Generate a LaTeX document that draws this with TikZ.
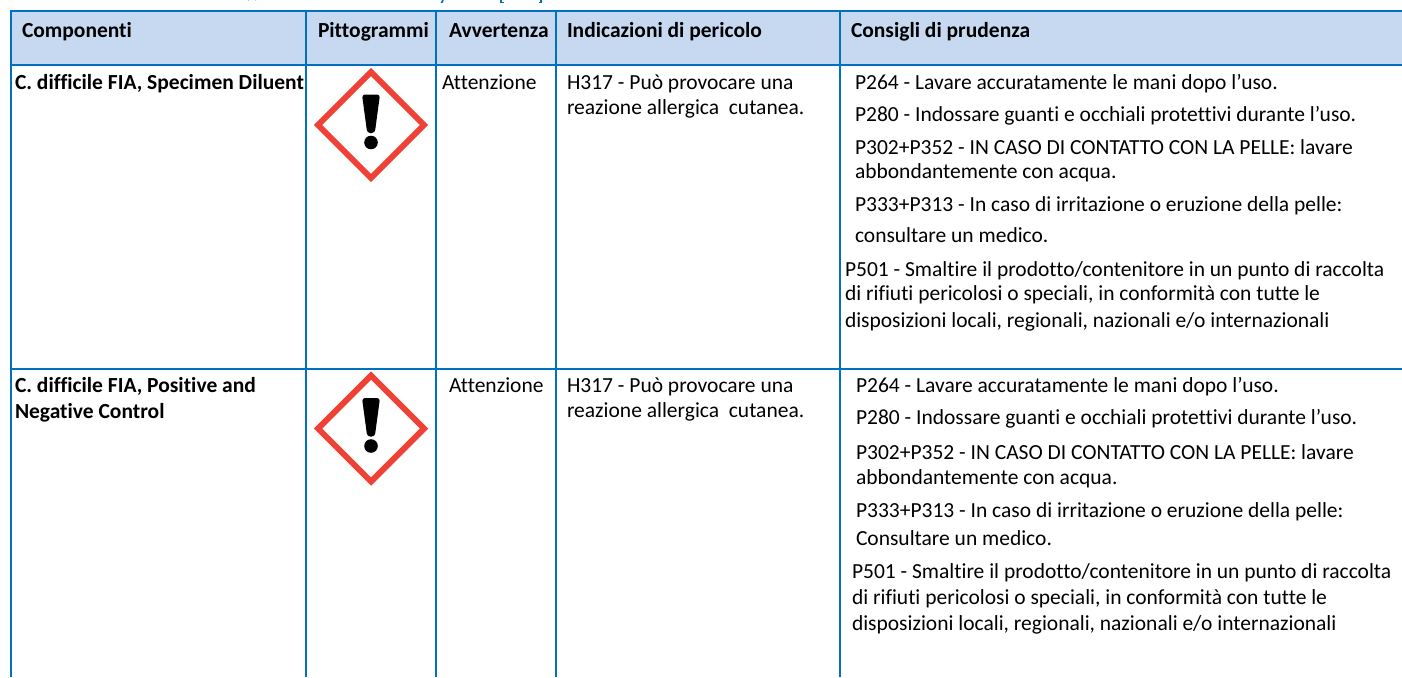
\documentclass[tikz,border=0pt]{standalone}
\usepackage{fontspec}
\setmainfont[Ligatures=CommonOff]{Carlito}
\definecolor{rule}{HTML}{0070C0}
\definecolor{head}{HTML}{C6D9F1}
\definecolor{ghs}{HTML}{EF4136}
\tikzset{
  x=1pt,y=-1pt,
  rulestyle/.style={draw=rule,line width=2pt},
  tx/.style={anchor=base west,inner sep=0pt,outer sep=0pt,yshift=-1.5pt,font=\fontsize{21.5}{24}\selectfont},
  hd/.style={tx,font=\fontsize{21.5}{24}\selectfont\bfseries},
  pict/.pic={
    \draw[ghs,line width=6pt,miter limit=10,fill=white] (0,-53) -- (53,0) -- (0,53) -- (-53,0) -- cycle;
    \fill[black,rounded corners=3pt] (-9,-30.5) -- (9,-30.5) -- (3.8,8) -- (-3.8,8) -- cycle;
    \fill[black] (0,17.5) circle (6.8);
  }
}
\begin{document}
\begin{tikzpicture}
\useasboundingbox (0,0) rectangle (1402,677);
\fill[head] (11,11) rectangle (1402,65);
\draw[rulestyle] (1402,11) -- (10,11);
\draw[rulestyle] (1402,65.5) -- (10,65.5);
\draw[rulestyle] (1402,368.5) -- (10,368.5);
\foreach \xx in {10.5,306,436,555.5,839.5} \draw[rulestyle] (\xx,10) -- (\xx,677);
\draw[rule,line width=1.6pt] (248,0) arc[start angle=200,end angle=340,radius=4.5];
\draw[rule,line width=1.6pt] (443,0) -- (441.5,3);
\draw[rule,line width=1.6pt] (501,0) -- (501,2.5) -- (503.5,2.5);
\draw[rule,line width=1.6pt] (541,0) -- (541,2.5) -- (538.5,2.5);
\pic at (371,125) {pict};
\pic at (371,428.5) {pict};
% header
\node[hd] (h1) at (22,36) {Componenti};
\node[hd] (h2) at (318,36) {Pittogrammi};
\node[hd] (h3) at (449,36) {Avvertenza};
\node[hd] (h4) at (567,36) {Indicazioni di pericolo};
\node[hd] (h5) at (851,36) {Consigli di prudenza};
% row 1
\node[hd] (a1) at (15,88) {C. difficile FIA, Specimen Diluent};
\node[tx] (a2) at (442,88) {Attenzione};
\node[tx] (a3) at (567,88) {H317 - Può provocare una};
\node[tx] (a4) at (567,113) {reazione allergica\ \ cutanea.};
\node[tx] (p1) at (855,88) {P264 - Lavare accuratamente le mani dopo l’uso.};
\node[tx] (p2) at (855,120) {P280 - Indossare guanti e occhiali protettivi durante l’uso.};
\node[tx] (p3) at (855,153) {P302+P352 - IN CASO DI CONTATTO CON LA PELLE: lavare};
\node[tx] (p4) at (855,177) {abbondantemente con acqua.};
\node[tx] (p5) at (855,210) {P333+P313 - In caso di irritazione o eruzione della pelle:};
\node[tx] (p6) at (855,241) {consultare un medico.};
\node[tx] (p7) at (845,275) {P501 - Smaltire il prodotto/contenitore in un punto di raccolta};
\node[tx] (p8) at (845,299) {di rifiuti pericolosi o speciali, in conformità con tutte le};
\node[tx] (p9) at (845,326) {disposizioni locali, regionali, nazionali e/o internazionali};
% row 2
\node[hd] (b1) at (15,391) {C. difficile FIA, Positive and};
\node[hd] (b2) at (15,417) {Negative Control};
\node[tx] (b3) at (449,391) {Attenzione};
\node[tx] (b4) at (567,391) {H317 - Può provocare una};
\node[tx] (b5) at (567,416) {reazione allergica\ \ cutanea.};
\node[tx] (q1) at (856,391) {P264 - Lavare accuratamente le mani dopo l’uso.};
\node[tx] (q2) at (856,423) {P280 - Indossare guanti e occhiali protettivi durante l’uso.};
\node[tx] (q3) at (856,458) {P302+P352 - IN CASO DI CONTATTO CON LA PELLE: lavare};
\node[tx] (q4) at (856,483) {abbondantemente con acqua.};
\node[tx] (q5) at (856,516) {P333+P313 - In caso di irritazione o eruzione della pelle:};
\node[tx] (q6) at (856,544) {Consultare un medico.};
\node[tx] (q7) at (852,577) {P501 - Smaltire il prodotto/contenitore in un punto di raccolta};
\node[tx] (q8) at (852,603) {di rifiuti pericolosi o speciali, in conformità con tutte le};
\node[tx] (q9) at (852,629) {disposizioni locali, regionali, nazionali e/o internazionali};
\end{tikzpicture}
\end{document}
